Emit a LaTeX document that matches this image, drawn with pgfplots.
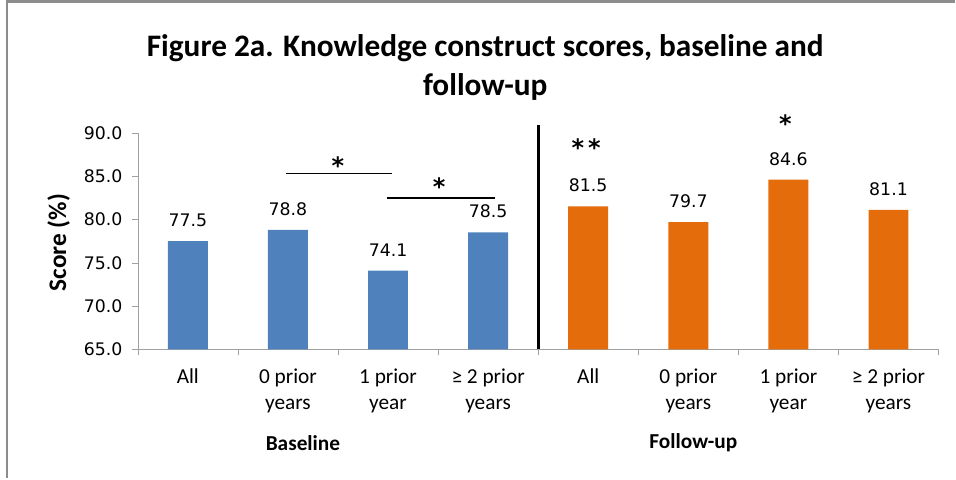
\documentclass[border=0pt]{standalone}
\usepackage{fontspec}
\setmainfont{Carlito}
\newfontfamily\numfont{DejaVu Sans}
\usepackage{pgfplots}
\pgfplotsset{compat=1.18}

\definecolor{barblue}{HTML}{4F81BD}
\definecolor{barorange}{HTML}{E46C0A}
\definecolor{framegray}{HTML}{8C8C8C}
\definecolor{axisgray}{HTML}{A0A0A0}

\begin{document}
\begin{tikzpicture}
% page frame, 1px = 0.75pt
\path (0,0) rectangle (717pt,359.25pt);
\draw[framegray, line width=2.2pt] (5.25pt,0) -- (5.25pt,357.9pt) -- (717pt,357.9pt);

\node[font=\fontsize{23.5}{26}\selectfont\bfseries] at (364.5pt,323pt)
  {Figure 2a. Knowledge construct scores, baseline and};
\node[font=\fontsize{23.5}{26}\selectfont\bfseries] at (364.5pt,294pt) {follow-up};
\node[font=\fontsize{19}{21}\selectfont\bfseries, rotate=90] at (44pt,177pt) {Score (\%)};

\begin{axis}[
  at={(103.5pt,96.75pt)}, anchor=south west,
  scale only axis, width=601.5pt, height=162.75pt,
  xmin=-0.5, xmax=7.5, ymin=65, ymax=90,
  axis lines=left, axis line style={-, draw=axisgray},
  clip mode=individual,
  tick align=outside,
  ytick={65,70,...,90},
  major tick length=4pt,
  tick style={draw=axisgray},
  yticklabel style={font=\numfont\fontsize{13}{15}\selectfont, xshift=-4pt,
    /pgf/number format/.cd, fixed, fixed zerofill, precision=1, assume math mode=true},
  xtick={0,...,7},
  major x tick style={draw=none},
  minor xtick={-0.5,0.5,...,7.5},
  minor tick length=4.5pt,
  minor x tick style={draw=axisgray},
  xticklabels={All, {0 prior\\years}, {1 prior\\year}, {≥ 2 prior\\years},
               All, {0 prior\\years}, {1 prior\\year}, {≥ 2 prior\\years}},
  xticklabel style={align=center, font=\fontsize{16}{19.5}\selectfont, yshift=-7pt},
  nodes near coords,
  point meta=y,
  nodes near coords style={font=\numfont\fontsize{13}{15}\selectfont, anchor=south,
    inner sep=0pt, yshift=10.5pt,
    /pgf/number format/.cd, fixed, fixed zerofill, precision=1, assume math mode=true},
]
% Baseline
\addplot[ybar, bar width=30pt, bar shift=0pt, fill=barblue, draw=none]
  coordinates {(0,77.5) (1,78.8) (2,74.1) (3,78.5)};
% Follow-up
\addplot[ybar, bar width=30pt, bar shift=0pt, fill=barorange, draw=none]
  coordinates {(4,81.5) (5,79.7) (6,84.6) (7,81.1)};

% divider between groups
\draw[black, line width=2.2pt] (axis cs:3.5,65) -- (axis cs:3.5,90.9);
% significance brackets
\draw[black, line width=1.1pt] (axis cs:0.98,85.3) -- (axis cs:2.04,85.3);
\draw[black, line width=1.1pt] (axis cs:1.99,82.5) -- (axis cs:3.07,82.5);
\node[font=\numfont\bfseries\fontsize{18}{18}\selectfont, anchor=north, inner sep=0pt] at (axis cs:1.5,87.3) {*};
\node[font=\numfont\bfseries\fontsize{18}{18}\selectfont, anchor=north, inner sep=0pt] at (axis cs:2.51,84.8) {*};
\node[font=\numfont\bfseries\fontsize{18}{18}\selectfont, anchor=north, inner sep=0pt] at (axis cs:3.98,89.3) {*\,*};
\node[font=\numfont\bfseries\fontsize{18}{18}\selectfont, anchor=north, inner sep=0pt] at (axis cs:5.97,92.15) {*};

% group labels
\node[font=\fontsize{16}{19}\selectfont\bfseries] at (axis cs:1.15,65) [yshift=-70pt] {Baseline};
\node[font=\fontsize{16}{19}\selectfont\bfseries] at (axis cs:5.05,65) [yshift=-70pt] {Follow-up};
\end{axis}
\end{tikzpicture}
\end{document}
